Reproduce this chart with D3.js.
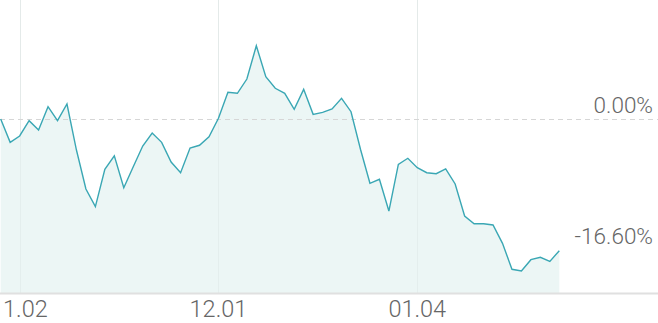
<!DOCTYPE html>
<html>
<head>
<meta charset="utf-8">
<script src="https://cdn.jsdelivr.net/npm/d3@7"></script>
<style>
  html, body { margin: 0; padding: 0; background: #fff; overflow: hidden; }
  svg { display: block; }
  text { font-family: Roboto, "Noto Sans", sans-serif; font-weight: 300; fill: #666; }
</style>
</head>
<body>
<svg id="chart" width="658" height="323"></svg>
<script>
// Daily return (%) relative to start
const values = [
  0.00, -2.94, -2.14, -0.21, -1.39, 1.55, -0.21, 1.89, -3.91, -8.82,
  -11.05, -6.34, -4.63, -8.66, -6.01, -3.40, -1.76, -2.94, -5.42, -6.77,
  -3.66, -3.31, -2.23, 0.09, 3.37, 3.24, 5.04, 9.24, 5.33, 3.87,
  3.24, 1.22, 3.74, 0.59, 0.84, 1.26, 2.61, 0.92, -3.81, -8.10,
  -7.60, -11.60, -5.71, -4.95, -6.14, -6.77, -6.89, -6.30, -8.19, -12.23,
  -13.20, -13.20, -13.36, -15.67, -18.94, -19.16, -17.73, -17.43, -17.94, -16.60
];
const xTickIndex = [2, 23, 44];
const xTickLabels = ["1.02", "12.01", "01.04"];
const yTickValues = [0, -16.6];
const yTickLabels = ["0.00%", "-16.60%"];

const W = 658, H = 323;
const svg = d3.select("#chart");
const x = d3.scaleLinear().domain([0, values.length - 1]).range([0.7, 559.3]);
const y = d3.scaleLinear().domain([-21.93, 15.0]).range([293, 0]);

// vertical grid lines
svg.append("g").selectAll("line").data(xTickIndex).join("line")
  .attr("x1", d => Math.round(x(d)) + 0.5).attr("x2", d => Math.round(x(d)) + 0.5)
  .attr("y1", 0).attr("y2", 293)
  .attr("stroke", "#ececec").attr("stroke-width", 1);

// area
const area = d3.area().x((d, i) => x(i)).y0(293).y1(d => y(d));
svg.append("path").datum(values).attr("d", area).attr("fill", "#ecf6f5");

// grid lines faintly on top of area
svg.append("g").selectAll("line").data(xTickIndex).join("line")
  .attr("x1", d => Math.round(x(d)) + 0.5).attr("x2", d => Math.round(x(d)) + 0.5)
  .attr("y1", 0).attr("y2", 293)
  .attr("stroke", "#dfe9e8").attr("stroke-width", 1).attr("opacity", 0.6);

// zero dashed line
svg.append("line")
  .attr("x1", 0).attr("x2", W)
  .attr("y1", Math.round(y(0)) + 0.5).attr("y2", Math.round(y(0)) + 0.5)
  .attr("stroke", "#d6d6d6").attr("stroke-width", 1).attr("stroke-dasharray", "5,4");

// line
const line = d3.line().x((d, i) => x(i)).y(d => y(d));
svg.append("path").datum(values).attr("d", line)
  .attr("fill", "none").attr("stroke", "#3aa7b4").attr("stroke-width", 1.4)
  .attr("stroke-linejoin", "miter");

// bottom axis line
svg.append("line").attr("x1", 0).attr("x2", W).attr("y1", 293.5).attr("y2", 293.5)
  .attr("stroke", "#e0e0e0").attr("stroke-width", 2);

// x labels (clamped inside the left edge)
svg.append("g").selectAll("text").data(xTickIndex).join("text")
  .attr("y", 317)
  .attr("text-anchor", "middle").attr("font-size", 23.5)
  .text((d, i) => xTickLabels[i])
  .each(function(d) {
    const w = this.getComputedTextLength();
    d3.select(this).attr("x", Math.max(x(d), w / 2 + 3));
  });

// y labels
svg.append("g").selectAll("text").data(yTickValues).join("text")
  .attr("x", 653).attr("y", d => y(d) - 6.3)
  .attr("text-anchor", "end").attr("font-size", 22.5)
  .text((d, i) => yTickLabels[i]);
</script>
</body>
</html>
